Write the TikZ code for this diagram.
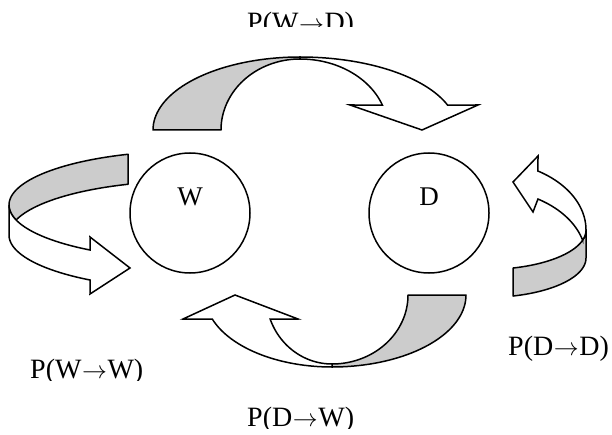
\documentclass[tikz,border=0pt]{standalone}
\usepackage{fontspec}
\setmainfont{Liberation Serif}
\definecolor{bandgray}{RGB}{204,204,204}
\newcommand{\trarrow}{\kern0.02em$\rightarrow$\kern0.02em}
\tikzset{
  backband/.style={fill=bandgray, draw=black, line width=1.5pt, line join=round},
  frontband/.style={fill=white, draw=black, line width=1.5pt, line join=miter},
  state/.style={circle, draw=black, line width=1.5pt, minimum size=120pt, inner sep=0pt},
  statetext/.style={font=\fontsize{27}{32}\selectfont, inner sep=0pt, anchor=base},
  problabel/.style={font=\fontsize{28}{33}\selectfont, inner sep=0pt, anchor=base west},
  every plot/.style={samples=40}
}
\begin{document}
\begin{tikzpicture}[x=1pt,y=-1pt]
\useasboundingbox (0,0) rectangle (612,435);

% states
\node[state] (W) at (190,213) {};
\node[state] (D) at (429,213) {};
\node[statetext] (Wt) at (190,206) {W};
\node[statetext] (Dt) at (429,206) {D};

% W -> W ring (left)
\filldraw[backband]
  plot[variable=\t, domain=110:180] ({190+181*cos(\t)},{205-54*sin(\t)})
  -- plot[variable=\t, domain=180:196.1] ({190+181*cos(\t)},{205-54*sin(\t)})
  -- plot[variable=\t, domain=163.9:110] ({190+181*cos(\t)},{235-54*sin(\t)})
  -- cycle;
\filldraw[frontband]
  plot[variable=\t, domain=180:236.5] ({190+181*cos(\t)},{205-54*sin(\t)})
  -- (90,237) -- (130,268) -- (90,294)
  -- plot[variable=\t, domain=236.5:180] ({190+181*cos(\t)},{235-54*sin(\t)})
  -- cycle;

% W -> D (top)
\filldraw[backband]
  plot[variable=\t, domain=180:90] ({300+147*cos(\t)},{130-73*sin(\t)})
  -- plot[variable=\t, domain=90:180] ({300+79*cos(\t)},{130-71*sin(\t)})
  -- cycle;
\filldraw[frontband]
  plot[variable=\t, domain=90:20] ({300+157*cos(\t)},{130-73*sin(\t)})
  -- (478,105) -- (422,130) -- (350,105)
  -- plot[variable=\t, domain=20.6:90] ({300+88*cos(\t)},{130-71*sin(\t)})
  -- cycle;

% D -> W (bottom)
\filldraw[backband]
  plot[variable=\t, domain=0:-90] ({332+134*cos(\t)},{295-72*sin(\t)})
  -- plot[variable=\t, domain=-90:0] ({332+76*cos(\t)},{295-69*sin(\t)})
  -- cycle;
\filldraw[frontband]
  plot[variable=\t, domain=-90:-160.5] ({332+127*cos(\t)},{295-72*sin(\t)})
  -- (183,319) -- (235,295) -- (298,319)
  -- plot[variable=\t, domain=-159.6:-90] ({332+66*cos(\t)},{295-69*sin(\t)})
  -- cycle;

% D -> D ring (right)
\filldraw[backband]
  plot[variable=\t, domain=0:-74.3] ({486+100*cos(\t)},{230-39.5*sin(\t)})
  -- plot[variable=\t, domain=-74.3:0] ({486+100*cos(\t)},{258-39.5*sin(\t)})
  -- cycle;
\filldraw[frontband]
  plot[variable=\t, domain=0:58.7] ({486+100*cos(\t)},{230-69*sin(\t)})
  -- (538,156) -- (513,182) -- (533,212)
  -- plot[variable=\t, domain=58.7:14.95] ({486+100*cos(\t)},{258-69*sin(\t)})
  -- plot[variable=\t, domain=-14.95:0] ({486+100*cos(\t)},{230-39.5*sin(\t)})
  -- cycle;

% labels
\begin{scope}
  \clip (0,0) rectangle (612,27);
  \node[problabel] (lWD) at (247,32) {P(W\trarrow D)};
\end{scope}
\begin{scope}
  \clip (0,0) rectangle (612,380);
  \node[problabel] (lWW) at (30,378) {P(W\trarrow W)};
\end{scope}
\node[problabel] (lDD) at (508,355) {P(D\trarrow D)};
\begin{scope}
  \clip (0,0) rectangle (612,428);
  \node[problabel] (lDW) at (247,426) {P(D\trarrow W)};
\end{scope}
\end{tikzpicture}
\end{document}
